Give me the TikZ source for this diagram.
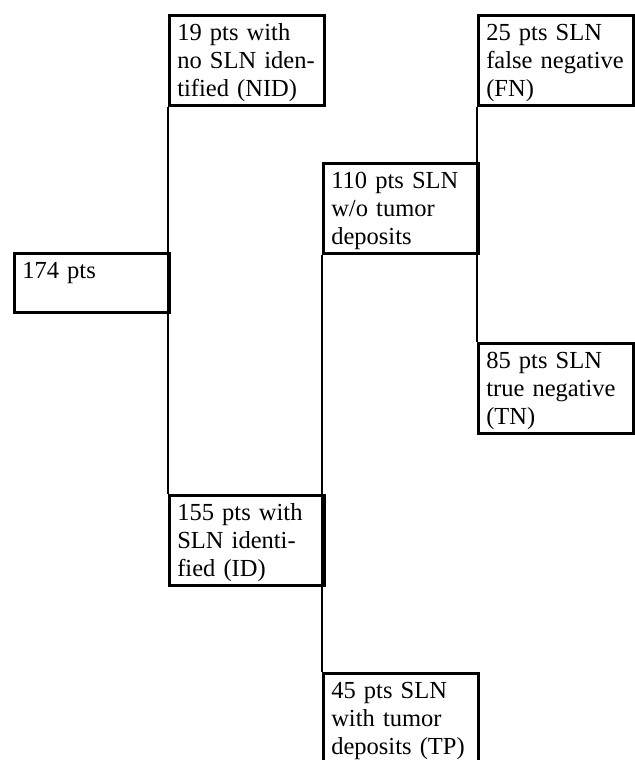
\documentclass[tikz,border=0pt]{standalone}
\usepackage{fontspec}
\setmainfont{Liberation Serif}
\usetikzlibrary{positioning}

\begin{document}
\begin{tikzpicture}[
      x=0.5pt, y=-0.5pt,
      every node/.append style={font=\fontsize{12.25}{14}\selectfont},
      box/.style={rectangle, draw, line width=1.3pt, inner xsep=4pt,
                  inner ysep=0pt, text width=69.5pt, align=left,
                  anchor=north west, text height=12.5pt, text depth=32.5pt},
      lowbox/.style={box, text depth=17pt},
      link/.style={line width=1.3pt},
    ]
      \useasboundingbox (0,0) rectangle (635,760);
      \clip (0,0) rectangle (635,760);

      \node[lowbox] (all) at (13,252) {174 pts};
      \node[box] (nid) at (168,14) {19 pts with \\ no SLN iden- \\ tified (NID)};
      \node[box] (id) at (168,494) {155 pts with \\ SLN identi- \\ fied (ID)};
      \node[box] (neg) at (322,162) {110 pts SLN \\ w/o tumor \\ deposits};
      \node[box] (tp) at (322,672) {45 pts SLN \\ with tumor \\ deposits (TP)};
      \node[box] (fn) at (477,14) {25 pts SLN \\ false negative \\ (FN)};
      \node[box] (tn) at (477,342) {85 pts SLN \\ true negative \\ (TN)};

      \draw[link] (nid.south west) -- (id.north west);
      \draw[link] (neg.south west) -- (tp.north west);
      \draw[link] (fn.south west) -- (tn.north west);
    \end{tikzpicture}
\end{document}
